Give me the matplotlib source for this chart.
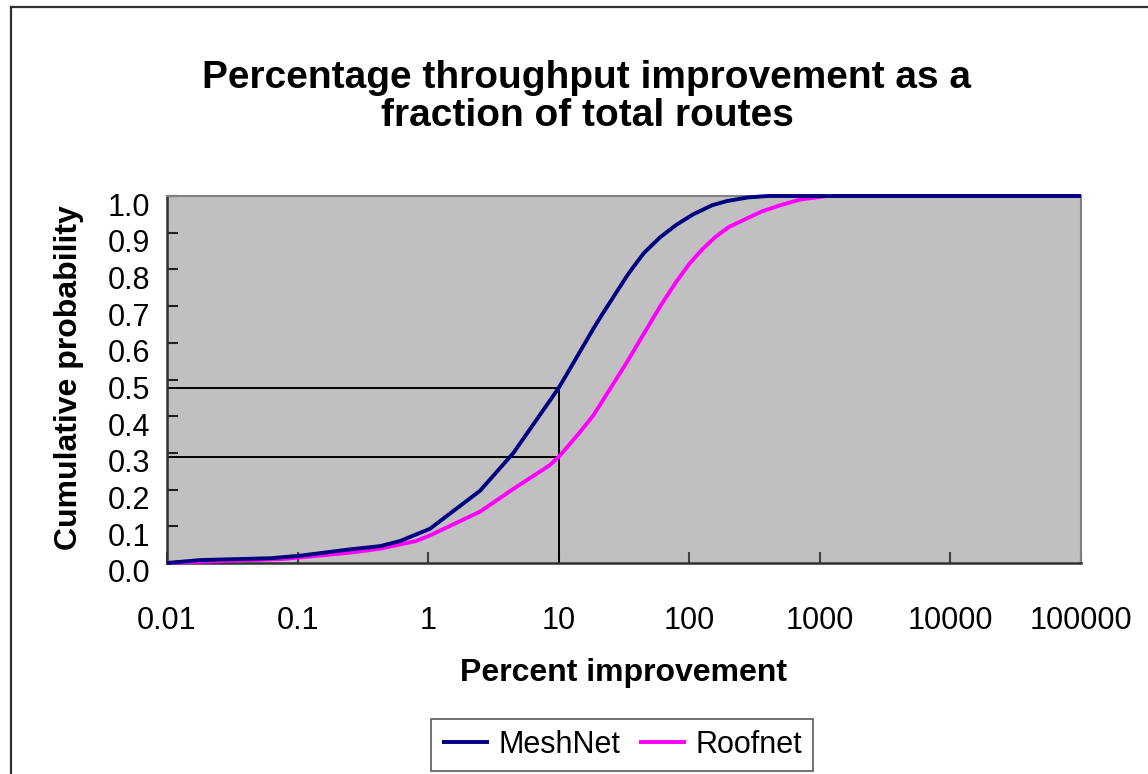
import matplotlib
matplotlib.use("Agg")
import matplotlib.pyplot as plt
from matplotlib.lines import Line2D
from matplotlib.transforms import ScaledTranslation

# ---- data ----
meshnet_x = [0.01, 0.018, 0.062, 0.105, 0.25, 0.43, 0.61, 1.03, 2.5, 4.5, 10,
             14.5, 18.4, 20.7, 33, 37, 45, 60, 80, 107, 150, 193, 280, 400, 100000]
meshnet_y = [0.0, 0.008, 0.013, 0.02, 0.037, 0.046, 0.06, 0.093, 0.197, 0.30, 0.477,
             0.575, 0.638, 0.668, 0.78, 0.805, 0.845, 0.888, 0.922, 0.95, 0.975, 0.986,
             0.996, 1.0, 1.0]

roofnet_x = [0.01, 0.024, 0.078, 0.25, 0.43, 0.81, 1.03, 2.5, 4.5, 8.5, 10,
             14.5, 18.4, 33, 60, 79, 100, 126, 158, 200, 280, 360, 500, 700, 1120, 100000]
roofnet_y = [0.0, 0.005, 0.011, 0.028, 0.039, 0.06, 0.075, 0.14, 0.202, 0.266, 0.289,
             0.356, 0.402, 0.545, 0.70, 0.765, 0.815, 0.855, 0.888, 0.915, 0.94,
             0.958, 0.975, 0.99, 1.0, 1.0]

ref_x = 10
ref_y = [0.477, 0.289]

x_ticks = [0.01, 0.1, 1, 10, 100, 1000, 10000, 100000]
x_tick_labels = ["0.01", "0.1", "1", "10", "100", "1000", "10000", "100000"]
y_ticks = [0.0, 0.1, 0.2, 0.3, 0.4, 0.5, 0.6, 0.7, 0.8, 0.9, 1.0]
y_tick_labels = ["0.0", "0.1", "0.2", "0.3", "0.4", "0.5", "0.6", "0.7", "0.8", "0.9", "1.0"]

title = "Percentage throughput improvement as a\nfraction of total routes"
xlabel = "Percent improvement"
ylabel = "Cumulative probability"

# ---- figure ----
plt.rcParams['font.family'] = ['Liberation Sans', 'DejaVu Sans']
W, H = 1148, 774
fig = plt.figure(figsize=(W / 100, H / 100), dpi=100)
fig.patch.set_facecolor("white")

ax = fig.add_axes([167 / W, 1 - 563 / H, 914 / W, 367 / H])
ax.set_facecolor("#C0C0C0")
ax.set_xscale("log")
ax.set_xlim(0.01, 100000)
ax.set_ylim(0, 1)

# reference lines
for ry in ref_y:
    ax.plot([0.01, ref_x], [ry, ry], color="black", lw=1.4, zorder=2)
ax.plot([ref_x, ref_x], [0, max(ref_y)], color="black", lw=1.4, zorder=2)

ax.plot(roofnet_x, roofnet_y, color="#FF00FF", lw=2.8, label="Roofnet", zorder=3,
        clip_on=False, solid_capstyle="butt", solid_joinstyle="round")
ax.plot(meshnet_x, meshnet_y, color="#000080", lw=2.8, label="MeshNet", zorder=4,
        clip_on=False, solid_capstyle="butt", solid_joinstyle="round")

ax.set_xticks(x_ticks)
ax.set_xticklabels(x_tick_labels)
ax.xaxis.set_minor_locator(matplotlib.ticker.NullLocator())
ax.set_yticks(y_ticks)
ax.set_yticklabels(y_tick_labels)

ax.tick_params(axis="x", direction="in", length=8, width=1.5, color="#404040",
               labelsize=22, pad=31)
ax.tick_params(axis="y", direction="in", length=8, width=1.5, color="#202020",
               labelsize=22, pad=12)
for lab in ax.get_yticklabels():
    lab.set_transform(lab.get_transform() + ScaledTranslation(0, -0.08, fig.dpi_scale_trans))

for s in ("left", "bottom"):
    ax.spines[s].set_color("#303030")
    ax.spines[s].set_linewidth(1.8)
for s in ("top", "right"):
    ax.spines[s].set_color("#808080")
    ax.spines[s].set_linewidth(1.5)

fig.text(587 / W, 1 - 97 / H, title, ha="center", va="center", fontsize=28,
         fontweight="bold", linespacing=1.08)
fig.text(624 / W, 1 - 673 / H, xlabel, ha="center", va="center", fontsize=23,
         fontweight="bold")
fig.text(69 / W, 1 - 378 / H, ylabel, ha="center", va="center", fontsize=23,
         fontweight="bold", rotation=90)

handles, labels = ax.get_legend_handles_labels()
order = [labels.index("MeshNet"), labels.index("Roofnet")]
leg = fig.legend([handles[i] for i in order], [labels[i] for i in order],
                 loc="center", bbox_to_anchor=(622 / W, 1 - 745 / H), ncol=2,
                 fontsize=22, frameon=True, fancybox=False, handlelength=1.55,
                 handletextpad=0.3, columnspacing=0.6, borderpad=0.35,
                 borderaxespad=0)
leg.get_frame().set_edgecolor("#303030")
leg.get_frame().set_linewidth(1.2)

# outer chart border (left and top visible)
fig.add_artist(Line2D([10.5 / W, 10.5 / W], [0, 1 - 6.5 / H], color="#303030", lw=1.6))
fig.add_artist(Line2D([10.5 / W, 1], [1 - 6.5 / H, 1 - 6.5 / H], color="#303030", lw=1.6))

fig.savefig("out.png", dpi=100)
